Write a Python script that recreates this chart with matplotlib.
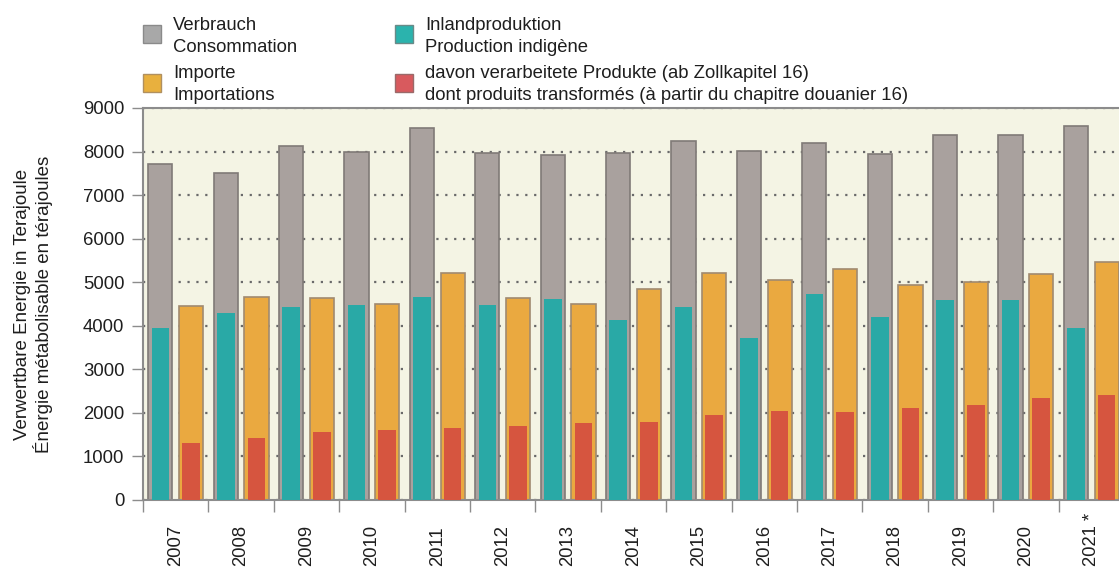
import matplotlib
matplotlib.use("Agg")
import matplotlib.pyplot as plt
import matplotlib.transforms as mtransforms
from matplotlib.patches import Rectangle
import numpy as np

plt.rcParams["font.family"] = ["Liberation Sans", "DejaVu Sans"]

# ── Data (TJ) ────────────────────────────────────────────────────────────────
years = ["2007", "2008", "2009", "2010", "2011", "2012", "2013", "2014",
         "2015", "2016", "2017", "2018", "2019", "2020", "2021 *"]
consumption = [7720, 7500, 8120, 7990, 8540, 7960, 7910, 7960,
               8250, 8020, 8190, 7950, 8390, 8380, 8580]
production = [3960, 4300, 4420, 4480, 4650, 4480, 4610, 4140,
              4430, 3720, 4720, 4200, 4590, 4590, 3940]
imports = [4450, 4670, 4640, 4500, 5220, 4630, 4500, 4850,
           5210, 5050, 5310, 4930, 5010, 5180, 5460]
processed = [1300, 1420, 1550, 1610, 1650, 1710, 1770, 1800,
             1950, 2040, 2030, 2120, 2180, 2350, 2400]

# ── Colors ───────────────────────────────────────────────────────────────────
GRAY = "#a9a19e"
GRAY_EDGE = "#807a77"
TEAL = "#29a9a6"
ORANGE = "#eaa940"
ORANGE_EDGE = "#a08a70"
RED = "#d6553f"
BG = "#f4f4e4"
AXIS = "#8c8c8c"
TXT = "#1e1e1e"

W, H = 1119, 570
fig = plt.figure(figsize=(W / 100, H / 100), dpi=100)
fig.patch.set_facecolor("white")
ax = fig.add_axes([143 / W, 70 / H, (1124 - 143) / W, 392 / H])
ax.set_facecolor(BG)

x = np.arange(len(years))
off, w_out, w_in = 0.235, 0.37, 0.27
ax.bar(x - off, consumption, width=w_out, color=GRAY, edgecolor=GRAY_EDGE, linewidth=1.2, zorder=2)
ax.bar(x - off, production, width=w_in, color=TEAL, linewidth=0, zorder=3)
ax.bar(x + off, imports, width=w_out, color=ORANGE, edgecolor=ORANGE_EDGE, linewidth=1.2, zorder=2)
ax.bar(x + off, processed, width=w_in, color=RED, linewidth=0, zorder=3)

ax.set_xlim(-0.5, len(years) - 0.5)
ax.set_ylim(0, 9000)
ax.set_yticks(range(0, 9001, 1000))
ax.tick_params(axis="y", length=8, width=1, color=AXIS, pad=5.5, labelsize=13.3, labelcolor=TXT)

ax.set_xticks([])
ax.set_xticks(np.arange(-0.5, len(years), 1), minor=True)
ax.tick_params(axis="x", which="minor", length=8.5, width=1, color=AXIS)

ax.set_axisbelow(True)
ax.yaxis.grid(True, color="#6a6a6a", linestyle=(0, (1, 3)), linewidth=1.6)

for side in ["top", "left", "bottom"]:
    ax.spines[side].set_color(AXIS)
    ax.spines[side].set_linewidth(1.5)
ax.spines["right"].set_visible(False)

# year labels, anchored at the bottom so "2021 *" extends upward
trans = mtransforms.blended_transform_factory(ax.transData, ax.transAxes)
for xi, lab in zip(x, years):
    ax.text(xi, -0.168, lab, transform=trans, rotation=90, ha="center", va="bottom",
            fontsize=13.3, color=TXT)

# y label (two lines)
fig.text(23 / W, 1 - 304 / H, "Verwertbare Energie in Terajoule", rotation=90,
         ha="center", va="center", fontsize=13.5, color=TXT)
fig.text(43 / W, 1 - 304 / H, "Énergie métabolisable en térajoules", rotation=90,
         ha="center", va="center", fontsize=13.5, color=TXT)

# ── Legend ───────────────────────────────────────────────────────────────────
legend_items = [
    (143, 25, "#a8a8a8", "#8a8a8a", 173, ("Verbrauch", "Consommation"), 30),
    (143, 74, "#e8b03e", "#b09060", 173, ("Importe", "Importations"), 78),
    (395, 25, "#2bb3ad", "#6a8a88", 425, ("Inlandproduktion", "Production indigène"), 30),
    (395, 74, "#d85a5e", "#9a6a6a", 425, ("davon verarbeitete Produkte (ab Zollkapitel 16)",
                                         "dont produits transformés (à partir du chapitre douanier 16)"), 78),
]
for sx, sy, fc, ec, tx, lines, base in legend_items:
    fig.patches.append(Rectangle((sx / W, 1 - (sy + 18) / H), 18 / W, 18 / H,
                                 transform=fig.transFigure, facecolor=fc, edgecolor=ec,
                                 linewidth=1.0))
    fig.text(tx / W, 1 - base / H, lines[0], ha="left", va="baseline", fontsize=13.3, color=TXT)
    fig.text(tx / W, 1 - (base + 22) / H, lines[1], ha="left", va="baseline", fontsize=13.3, color=TXT)

fig.savefig("out.png", dpi=100, facecolor="white")
